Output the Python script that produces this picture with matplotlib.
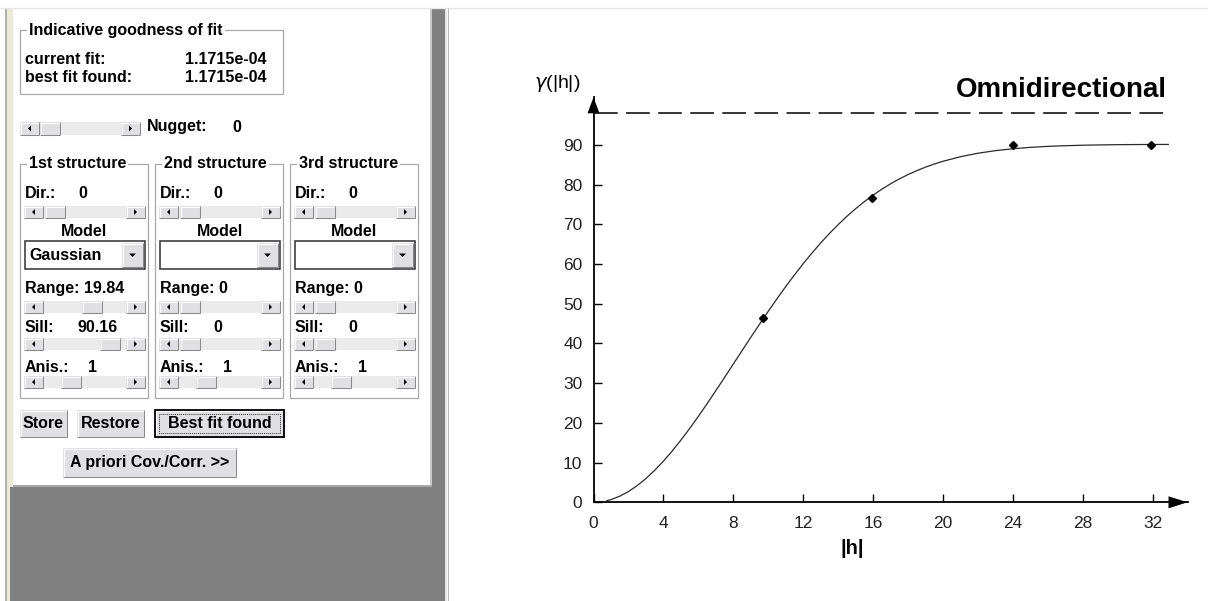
import matplotlib
matplotlib.use("Agg")
import matplotlib.pyplot as plt
from matplotlib.patches import Rectangle, Polygon

# Chart data
lag_h = [9.73, 15.95, 24.04, 31.9]
lag_gamma = [46.5, 76.6, 90.0, 90.0]

model_h = [0.75, 1, 1.5, 2, 2.5, 3, 3.5, 4, 4.5, 5, 5.5, 6, 6.5, 7, 7.5, 8,
           8.5, 9, 9.5, 10, 10.5, 11, 11.5, 12, 12.5, 13, 13.5, 14, 14.5, 15,
           15.5, 16, 16.5, 17, 17.5, 18, 18.5, 19, 19.5, 20, 21, 22, 23, 24,
           25, 26, 27, 28, 29, 30, 31, 32, 32.9]
model_gamma = [0.39, 0.68, 1.53, 2.71, 4.19, 5.98, 8.04, 10.35, 12.89, 15.64,
               18.56, 21.63, 24.82, 28.10, 31.44, 34.80, 38.18, 41.53, 44.84,
               48.08, 51.25, 54.31, 57.25, 60.07, 62.75, 65.29, 67.68, 69.92,
               72.00, 73.93, 75.71, 77.35, 78.84, 80.20, 81.43, 82.53, 83.52,
               84.40, 85.19, 85.88, 87.03, 87.91, 88.56, 89.04, 89.39, 89.64,
               89.81, 89.93, 90.01, 90.07, 90.10, 90.12, 90.13]
variance_level = 98.1

x_ticks = [0, 4, 8, 12, 16, 20, 24, 28, 32]
y_ticks = [0, 10, 20, 30, 40, 50, 60, 70, 80, 90]

# Panel values
current_fit = "1.1715e-04"
best_fit = "1.1715e-04"
nugget = "0"
struct_titles = ["1st structure", "2nd structure", "3rd structure"]
struct_dir = ["0", "0", "0"]
struct_model = ["Gaussian", "", ""]
struct_range = ["19.84", "0", "0"]
struct_sill = ["90.16", "0", "0"]
struct_anis = ["1", "1", "1"]

W, H = 1208, 601
FONT = "Liberation Sans"
FACE = "#e0dfe3"

fig = plt.figure(figsize=(W / 100, H / 100), dpi=100)
bg = fig.add_axes([0, 0, 1, 1])
bg.set_xlim(0, W)
bg.set_ylim(H, 0)
bg.axis("off")


def rect(x0, y0, x1, y1, fc, ec="none", lw=0, z=1, ls="-"):
    bg.add_patch(Rectangle((x0, y0), x1 - x0, y1 - y0, facecolor=fc,
                           edgecolor=ec, linewidth=lw, zorder=z, linestyle=ls))


def hline(x0, x1, y, c, lw=0.75, z=2):
    bg.plot([x0, x1], [y, y], color=c, lw=lw, zorder=z, solid_capstyle="butt")


def vline(x, y0, y1, c, lw=0.75, z=2):
    bg.plot([x, x], [y0, y1], color=c, lw=lw, zorder=z, solid_capstyle="butt")


def label(x, y, s, ha="left", size=11.5, z=5):
    bg.text(x, y, s, ha=ha, va="center", fontsize=size, fontweight="bold",
            family=FONT, color="black", zorder=z)


def raised(x0, y0, x1, y1, z=3):
    rect(x0, y0, x1, y1, FACE, z=z)
    hline(x0, x1, y0 + 0.5, "white", z=z + 0.1)
    vline(x0 + 0.5, y0, y1, "white", z=z + 0.1)
    hline(x0, x1, y1 - 0.5, "#8a8a8a", z=z + 0.1)
    vline(x1 - 0.5, y0, y1, "#8a8a8a", z=z + 0.1)


def tri(cx, cy, d, z=4):
    s = 3
    if d == "l":
        pts = [(cx + 1.5, cy - s), (cx + 1.5, cy + s), (cx - 1.5, cy)]
    elif d == "r":
        pts = [(cx - 1.5, cy - s), (cx - 1.5, cy + s), (cx + 1.5, cy)]
    else:
        pts = [(cx - 3.5, cy - 1.5), (cx + 3.5, cy - 1.5), (cx, cy + 2)]
    bg.add_patch(Polygon(pts, closed=True, facecolor="black", edgecolor="none", zorder=z))


def scrollbar(x0, y0, x1, y1, thumb):
    rect(x0, y0, x1, y1, "#ebebeb", z=2)
    raised(x0, y0, x0 + 19, y1)
    tri(x0 + 9.5, (y0 + y1) / 2, "l")
    raised(x1 - 19, y0, x1, y1)
    tri(x1 - 9.5, (y0 + y1) / 2, "r")
    raised(x0 + thumb, y0, x0 + thumb + 20, y1)


def group(x0, y0, x1, y1, title):
    rect(x0, y0, x1, y1, "none", ec="#a8a8a8", lw=0.9, z=2)
    bg.text(x0 + 9, y0, title, ha="left", va="center", fontsize=11.5,
            fontweight="bold", family=FONT, zorder=5,
            bbox=dict(facecolor="white", edgecolor="none", pad=1.5))


# window frame / background
rect(0, 0, W, H, "white", z=0)
hline(0, W, 8, "#e6e6e6", lw=1.0)
rect(5, 8, 7, H, "#b0b0b0", z=1)
rect(7, 8, 13, H, "#ece9d8", z=1)
rect(10, 487, 445, H, "#808080", z=1)
rect(432, 8, 445, H, "#808080", z=1)
rect(13, 9, 430, 485, "white", z=1)
rect(430, 9, 432, 487, "#c8c8c8", z=1)
rect(13, 485, 432, 487, "#a8a8a8", z=1)
rect(445, 8, 447, H, "#e4e4e4", z=1)
vline(448, 8, H, "#b8b8b8", lw=0.7)

# goodness of fit box
group(20, 30, 283, 94, "Indicative goodness of fit")
label(25, 60, "current fit:")
label(185, 60, current_fit)
label(25, 77, "best fit found:")
label(185, 77, best_fit)

# nugget
scrollbar(20, 122, 140, 135, 20)
label(147, 127, "Nugget:")
label(232, 127, nugget)

# structures
group_x = [20, 155, 290]
range_thumb = [58, 21, 21]
sill_thumb = [76, 21, 21]
for i, gx in enumerate(group_x):
    group(gx, 164, gx + 128, 398, struct_titles[i])
    label(gx + 5, 193, "Dir.:")
    label(gx + 58, 193, struct_dir[i])
    scrollbar(gx + 4, 206, gx + 125, 218, 21)
    label(gx + 64.5, 232, "Model", ha="center")
    rect(gx + 5, 241, gx + 125, 269, "white", ec="#303030", lw=1.1, z=2)
    raised(gx + 102, 243, gx + 123, 267)
    tri(gx + 112.5, 255, "d")
    label(gx + 9, 256, struct_model[i])
    label(gx + 5, 289, "Range: " + struct_range[i])
    scrollbar(gx + 4, 301, gx + 125, 313, range_thumb[i])
    label(gx + 5, 328, "Sill:")
    label(gx + 58, 328, struct_sill[i])
    scrollbar(gx + 4, 338, gx + 125, 350, sill_thumb[i])
    label(gx + 5, 367, "Anis.:")
    label(gx + 68, 367, struct_anis[i])
    scrollbar(gx + 4, 376, gx + 125, 388, 37)

# buttons
raised(20, 410, 67, 437)
label(43.5, 423.5, "Store", ha="center")
raised(77, 410, 144, 437)
label(110.5, 423.5, "Restore", ha="center")
raised(155, 410, 284, 437)
rect(155, 410, 284, 437, "none", ec="black", lw=1.3, z=4)
rect(159, 414, 280, 433, "none", ec="#333333", lw=0.7, z=4, ls=(0, (1, 1)))
label(219.5, 423.5, "Best fit found", ha="center")
raised(63, 448, 236, 477)
label(149.5, 462.5, "A priori Cov./Corr. >>", ha="center")

# variogram chart
ax = fig.add_axes([593.5 / W, (H - 502.3) / H, 594 / W, 405 / H])
ax.patch.set_visible(False)
ax.set_xlim(0, 34)
ax.set_ylim(0, 102)
for s in ["top", "right"]:
    ax.spines[s].set_visible(False)
for s in ["left", "bottom"]:
    ax.spines[s].set_linewidth(1.3)
    ax.spines[s].set_color("black")

ax.plot([0, model_h[-1]], [variance_level, variance_level], color="black",
        lw=1.1, dashes=(15.5, 5.5), zorder=2)
ax.plot(model_h, model_gamma, color="#2a2a2a", lw=0.9, zorder=3)
ax.plot(lag_h, lag_gamma, linestyle="none", marker="D", markersize=4.5,
        color="black", zorder=4)

ax.set_xticks(x_ticks)
ax.set_yticks(y_ticks)
ax.tick_params(axis="both", direction="in", length=5.5, width=1.0,
               labelsize=12.5, labelcolor="#222222")
ax.tick_params(axis="x", pad=10)
ax.tick_params(axis="y", pad=8)
for t in ax.get_xticklabels() + ax.get_yticklabels():
    t.set_family(FONT)

# arrow heads at the axis ends
fig.canvas.draw()
tx, ty = ax.transAxes.transform((1, 0))
bg.add_patch(Polygon([(tx, H - ty), (tx - 19, H - ty - 6), (tx - 19, H - ty + 6)],
                     closed=True, facecolor="black", edgecolor="none", zorder=6))
ux, uy = ax.transAxes.transform((0, 1))
bg.add_patch(Polygon([(ux, H - uy), (ux - 6, H - uy + 16), (ux + 6, H - uy + 16)],
                     closed=True, facecolor="black", edgecolor="none", zorder=6))

fig.text(557 / W, 1 - 83 / H, r"$\gamma$(|h|)", ha="center", va="center",
         fontsize=14, family=FONT)
fig.text(852 / W, 1 - 548 / H, "|h|", ha="center", va="center",
         fontsize=14.5, family=FONT, fontweight="bold")
fig.text(1167 / W, 1 - 90 / H, "Omnidirectional", ha="right", va="center",
         fontsize=20, family=FONT, fontweight="bold")

fig.savefig("out.png", dpi=100)
